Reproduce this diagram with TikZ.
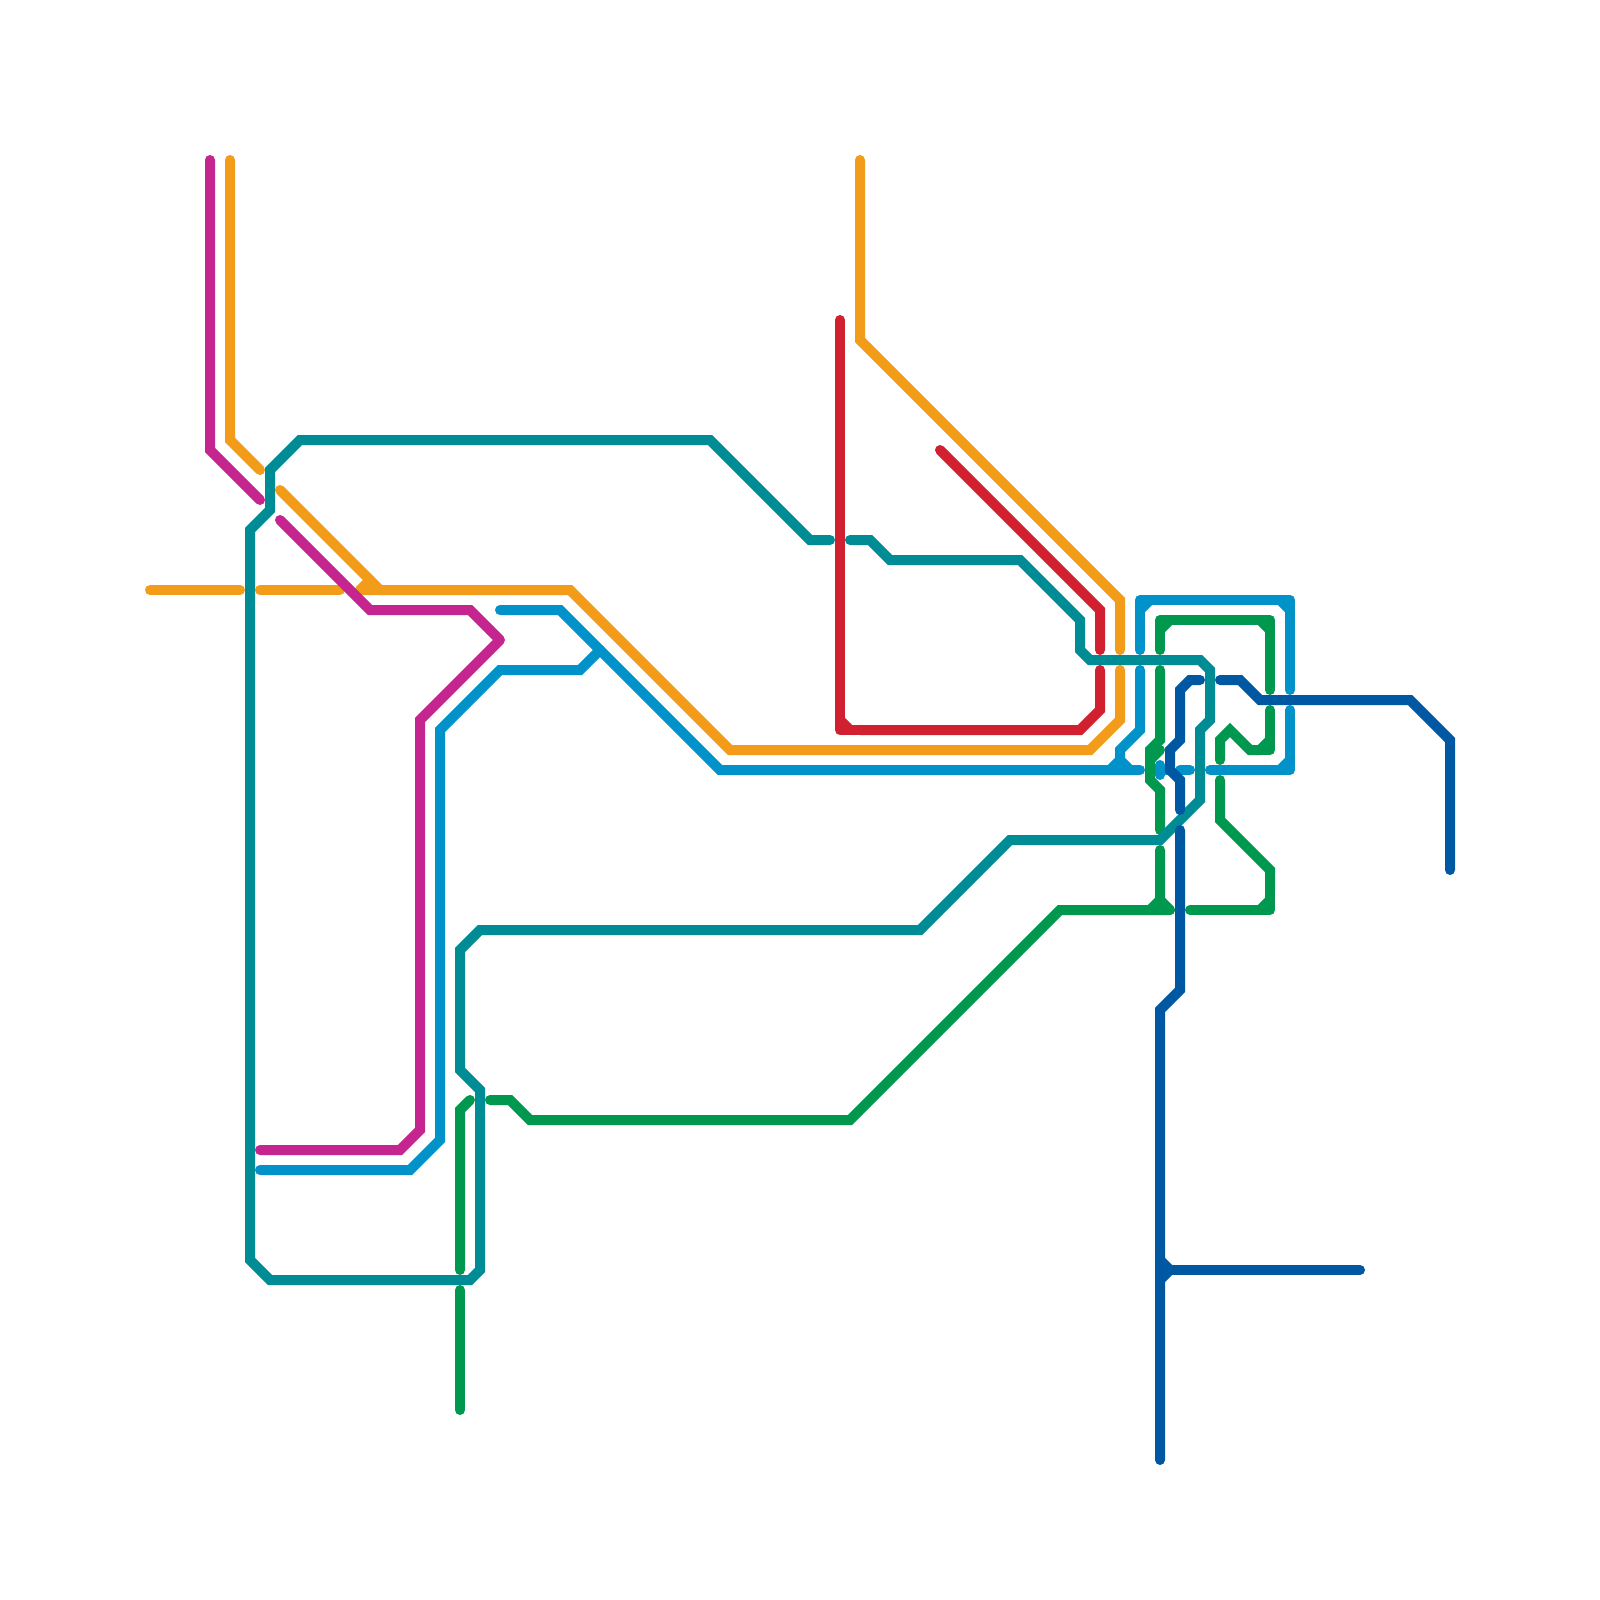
\documentclass[tikz,border=0pt]{standalone}
\definecolor{lorange}{HTML}{F39C1A}
\definecolor{lpurple}{HTML}{C4258F}
\definecolor{lred}{HTML}{D1202F}
\definecolor{lblue}{HTML}{0092C8}
\definecolor{lgreen}{HTML}{00984F}
\definecolor{lteal}{HTML}{008C95}
\definecolor{ldark}{HTML}{0058A3}
\tikzset{
  metro/.style={line width=10pt,line cap=round,line join=miter,miter limit=10},
  orangeline/.style={metro,draw=lorange},
  purpleline/.style={metro,draw=lpurple},
  redline/.style={metro,draw=lred},
  blueline/.style={metro,draw=lblue},
  greenline/.style={metro,draw=lgreen},
  tealline/.style={metro,draw=lteal},
  darkline/.style={metro,draw=ldark},
  soft/.style={line join=round}
}
\begin{document}
\begin{tikzpicture}[x=1pt,y=-1pt]
\useasboundingbox[fill=white] (0,0) rectangle (1600,1600);
% orange
\draw[orangeline] (230,160)--(230,440)--(260,470);
\draw[orangeline] (280,490)--(380,590);
\draw[orangeline] (370,580)--(360,590);
\draw[orangeline] (150,590)--(240,590);
\draw[orangeline] (260,590)--(340,590);
\draw[orangeline] (360,590)--(570,590)--(730,750)--(1090,750)--(1120,720)--(1120,670);
\draw[orangeline] (860,160)--(860,340)--(1120,600)--(1120,650);
% purple
\draw[purpleline] (210,160)--(210,450)--(260,500);
\draw[purpleline] (280,520)--(370,610)--(470,610)--(490,630);
\draw[purpleline,soft] (490,630)--(500,640)--(490,650);
\draw[purpleline] (490,650)--(420,720)--(420,1130)--(400,1150)--(260,1150);
% red
\draw[redline,soft] (840,320)--(840,730)--(860,730);
\draw[redline] (860,730)--(1080,730)--(1100,710)--(1100,670);
\draw[redline] (840,720)--(850,730);
\draw[redline] (940,450)--(1100,610)--(1100,650);
% blue
\draw[blueline] (500,610)--(560,610)--(720,770)--(1140,770);
\draw[blueline] (600,650)--(580,670)--(500,670)--(440,730)--(440,1140)--(410,1170)--(260,1170);
\draw[blueline,soft] (1140,650)--(1140,600)--(1290,600)--(1290,690);
\draw[blueline] (1140,610)--(1150,600);
\draw[blueline] (1280,600)--(1290,610);
\draw[blueline] (1140,670)--(1140,730)--(1120,750)--(1120,760)--(1110,770);
\draw[blueline] (1120,760)--(1130,770);
\draw[blueline] (1160,765)--(1160,775);
\draw[blueline] (1160,770)--(1170,770);
\draw[blueline] (1180,770)--(1190,770);
\draw[blueline,soft] (1210,770)--(1290,770)--(1290,710);
\draw[blueline] (1280,770)--(1290,760);
% green
\draw[greenline,soft] (1160,650)--(1160,620)--(1270,620)--(1270,690);
\draw[greenline] (1160,630)--(1170,620);
\draw[greenline] (1260,620)--(1270,630);
\draw[greenline] (1160,670)--(1160,740)--(1150,750)--(1150,780)--(1160,790)--(1160,830);
\draw[greenline] (1160,750)--(1150,760);
\draw[greenline] (1220,760)--(1220,740)--(1230,730)--(1250,750)--(1260,750);
\draw[greenline,soft] (1260,750)--(1270,750)--(1270,710);
\draw[greenline] (1260,750)--(1270,740);
\draw[greenline] (1220,780)--(1220,820)--(1270,870)--(1270,890);
\draw[greenline,soft] (1270,890)--(1270,910)--(1190,910);
\draw[greenline] (1260,910)--(1270,900);
\draw[greenline] (1160,850)--(1160,900)--(1150,910);
\draw[greenline] (1160,900)--(1170,910);
\draw[greenline] (1170,910)--(1060,910)--(850,1120)--(530,1120)--(510,1100)--(490,1100);
\draw[greenline] (470,1100)--(460,1110)--(460,1270);
\draw[greenline] (460,1290)--(460,1410);
% teal
\draw[tealline] (830,540)--(810,540)--(710,440)--(300,440)--(270,470)--(270,510)--(250,530)--(250,1260)--(270,1280)--(470,1280)--(480,1270)--(480,1090)--(460,1070)--(460,950)--(480,930)--(920,930)--(1010,840)--(1160,840)--(1200,800)--(1200,730)--(1210,720)--(1210,670)--(1200,660)--(1090,660)--(1080,650)--(1080,620)--(1020,560)--(890,560)--(870,540)--(850,540);
% dark blue
\draw[darkline] (1160,1460)--(1160,1010)--(1180,990)--(1180,830);
\draw[darkline] (1160,1270)--(1360,1270);
\draw[darkline] (1160,1260)--(1170,1270)--(1160,1280);
\draw[darkline] (1180,810)--(1180,780)--(1170,770)--(1170,750)--(1180,740)--(1180,690)--(1190,680)--(1200,680);
\draw[darkline] (1220,680)--(1240,680)--(1260,700)--(1410,700)--(1450,740)--(1450,870);
\end{tikzpicture}
\end{document}
